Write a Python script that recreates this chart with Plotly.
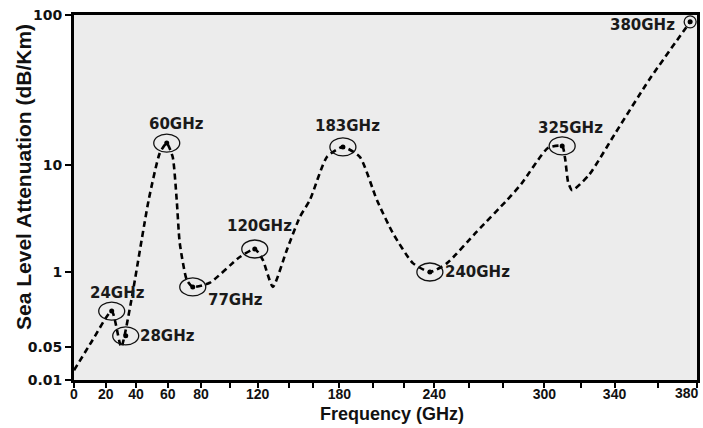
import numpy as np
import plotly.graph_objects as go

# ---------------- data (in the picture's axis units) ----------------
freq_ghz = [0, 11.7, 23.9, 30.2, 36.5, 48, 55, 59.4, 63, 65.4, 67.2, 71.4, 75,
            86, 107.1, 117.9, 123.3, 129.8, 138.8, 149.1, 157.2, 170.4, 182.1, 192.2,
            202.4, 212.8, 225.8, 237.1, 247.3, 264.6, 281.9, 288.7, 302, 309.8, 311.4,
            313.1, 315.3, 325, 340.7, 356, 376.5]
atten_db_km = [0.016, 0.066, 0.21, 0.05, 0.28, 4.7, 12, 14, 11.3, 4.7, 1.87, 0.73, 0.55,
               0.65, 1.38, 1.64, 1.3, 0.55, 1.6, 3.27, 4.7, 11.3, 13.2, 11.3,
               4.7, 2.3, 1.21, 1.0, 1.21, 2.4, 4.7, 6.6, 13, 13.4, 11.1,
               6.9, 5.8, 8.1, 16.6, 37, 90]

label_names = ["24GHz", "28GHz", "60GHz", "77GHz", "120GHz", "183GHz", "240GHz", "325GHz", "380GHz"]
label_freq = [23.9, 33.2, 59.4, 75, 117.9, 182.1, 237.1, 309.8, 376.5]
label_atten = [0.21, 0.078, 14, 0.55, 1.64, 13.2, 1.0, 13.4, 90]

x_tick_values = list(range(0, 381, 20))
x_tick_labels = ["0", "20", "40", "60", "80", "", "120", "", "", "180", "", "", "240",
                 "", "", "300", "", "340", "", ""]
x_last_label = "380"
y_tick_values = [0.01, 0.05, 1, 10, 100]
y_tick_text = ["0.01", "0.05", "1", "10", "100"]

# ---------------- layout / style constants ----------------
# both axes of the reference are unevenly spaced between their ticks;
# these are the axis positions of those ticks (axis units)
X_TICK_POS = [0, 31.8, 61.9, 93.6, 127, 155.8, 183.5, 214.4, 239.1, 265.1, 298.9,
              329.8, 359.9, 394.9, 428.7, 469.9, 506.2, 540, 583.3, 622.4]
Y_TICK_POS = [0, 33, 108, 215, 365]

# label offsets in pixels (dx, dy up) and ellipse sizes in pixels
LABEL_SHIFT = [(6, 18), (42, 0), (10, 19), (43, -13), (5, 23), (5, 21), (48, 0), (8, 18), (-48, -3)]
ELLIPSE = [(26, 18)] * 8 + [(12, 12)]


def x_scale(f):
    return np.interp(np.asarray(f, dtype=float), x_tick_values, X_TICK_POS)


def y_scale(v):
    """piecewise-logarithmic scale through the labelled ticks of the reference"""
    return np.interp(np.log10(np.asarray(v, dtype=float)), np.log10(y_tick_values), Y_TICK_POS)


bold_label = dict(family="DejaVu Sans", size=15, color="#1a1a1a", weight="bold")
tick_font_x = dict(family="Liberation Sans", size=14, color="#111", weight="bold")

fig = go.Figure()
fig.add_trace(go.Scatter(
    x=x_scale(freq_ghz), y=y_scale(atten_db_km), mode="lines",
    line=dict(color="black", width=2.6, dash="6px,4px", shape="spline", smoothing=0.55),
    customdata=np.c_[freq_ghz, atten_db_km],
    hovertemplate="%{customdata[0]} GHz: %{customdata[1]} dB/Km<extra></extra>",
    showlegend=False))
fig.add_trace(go.Scatter(
    x=x_scale(label_freq), y=y_scale(label_atten), mode="markers",
    marker=dict(color="black", size=5), text=label_names,
    hovertemplate="%{text}<extra></extra>", showlegend=False))

lx = x_scale(label_freq)
ly = y_scale(label_atten)
for name, fx, fy, (dx, dy), (ew, eh) in zip(label_names, lx, ly, LABEL_SHIFT, ELLIPSE):
    fig.add_shape(type="circle", xref="x", yref="y", xsizemode="pixel", ysizemode="pixel",
                  xanchor=fx, yanchor=fy, x0=-ew / 2, x1=ew / 2, y0=-eh / 2, y1=eh / 2,
                  line=dict(color="#111", width=1.3), fillcolor="rgba(0,0,0,0)")
    fig.add_annotation(x=fx, y=fy, text=name, showarrow=False, xshift=dx, yshift=dy,
                       font=bold_label)

fig.update_xaxes(range=[0, X_TICK_POS[-1]], tickvals=X_TICK_POS, ticktext=x_tick_labels,
                 showline=True, linecolor="black", linewidth=3, mirror=True,
                 ticks="outside", ticklen=5, tickwidth=2, tickcolor="black",
                 ticklabelstandoff=-6, automargin=False,
                 showgrid=False, zeroline=False, tickfont=tick_font_x)
fig.update_yaxes(range=[0, Y_TICK_POS[-1]], tickvals=Y_TICK_POS, ticktext=y_tick_text,
                 showline=True, linecolor="black", linewidth=3, mirror=True,
                 ticks="outside", ticklen=6, tickwidth=2, tickcolor="black",
                 automargin=False, showgrid=False, zeroline=False,
                 tickfont=dict(family="DejaVu Sans", size=14, color="#111", weight="bold"))

# last x tick label kept inside the page, right-aligned at its tick
fig.add_annotation(text=x_last_label, xref="x", yref="paper", x=X_TICK_POS[-1], y=-0.0356,
                   xanchor="right", yanchor="middle", xshift=4, showarrow=False,
                   font=tick_font_x)

fig.add_annotation(text="Sea Level Attenuation (dB/Km)", xref="paper", yref="paper",
                   x=-0.082, y=0.556, textangle=-90, showarrow=False,
                   xanchor="center", yanchor="middle",
                   font=dict(family="Liberation Sans", size=21, color="#111", weight="bold"))
fig.add_annotation(text="Frequency (GHz)", xref="paper", yref="paper",
                   x=0.51, y=-0.092, showarrow=False, xanchor="center", yanchor="middle",
                   font=dict(family="Liberation Sans", size=18, color="#111", weight="bold"))

fig.update_layout(width=703, height=428, margin=dict(l=74, r=6, t=15, b=48),
                  paper_bgcolor="white", plot_bgcolor="#ececec", showlegend=False)
fig.write_html("out.html")
